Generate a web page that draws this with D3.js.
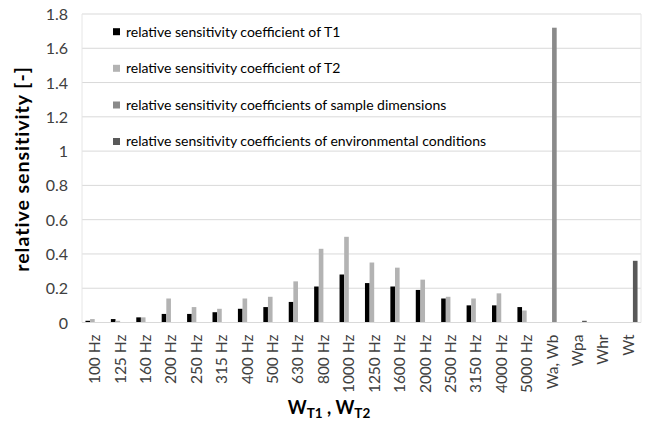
<!DOCTYPE html>
<html><head><meta charset="utf-8">
<script src="https://cdn.jsdelivr.net/npm/d3@7"></script>
<style>
html,body{margin:0;padding:0;background:#fff;}
svg{display:block;font-family:Lato,"Open Sans",sans-serif;}
</style></head>
<body><svg id="chart" width="645" height="423"></svg>
<script>
const categories = ["100 Hz","125 Hz","160 Hz","200 Hz","250 Hz","315 Hz","400 Hz","500 Hz","630 Hz","800 Hz","1000 Hz","1250 Hz","1600 Hz","2000 Hz","2500 Hz","3150 Hz","4000 Hz","5000 Hz","Wa, Wb","Wpa","Whr","Wt"];
const seriesNames = ["relative sensitivity coefficient of T1","relative sensitivity coefficient of T2","relative sensitivity coefficients of sample dimensions","relative sensitivity coefficients of environmental conditions"];
const t1Values = [0.01,0.02,0.03,0.05,0.05,0.06,0.08,0.09,0.12,0.21,0.28,0.23,0.21,0.19,0.14,0.10,0.10,0.09,null,null,null,null];
const t2Values = [0.02,0.01,0.03,0.14,0.09,0.08,0.14,0.15,0.24,0.43,0.50,0.35,0.32,0.25,0.15,0.14,0.17,0.07,null,null,null,null];
const sampleValues = [null,null,null,null,null,null,null,null,null,null,null,null,null,null,null,null,null,null,1.72,null,null,null];
const envValues = [null,null,null,null,null,null,null,null,null,null,null,null,null,null,null,null,null,null,null,0.01,0,0.36];
const yTicks = [0,0.2,0.4,0.6,0.8,1,1.2,1.4,1.6,1.8];
const colors = ["#000000","#b3b3b3","#8a8a8a","#595959"];

const svg = d3.select("#chart");
const pLeft = 82, pRight = 641, pTop = 14, pBottom = 322.5;

const x0 = d3.scaleBand().domain(categories).range([pLeft, pRight]).padding(0);
const bw = x0.bandwidth();
const x1 = d3.scaleBand().domain(d3.range(4)).range([bw*0.75/5.5, bw*4.75/5.5]).padding(0);
const y = d3.scaleLinear().domain([0,1.8]).range([pBottom, pTop]);

// gridlines
svg.append("g").selectAll("line").data(yTicks).join("line")
  .attr("x1", pLeft).attr("x2", pRight)
  .attr("y1", d=>y(d)).attr("y2", d=>y(d))
  .attr("stroke", "#d9d9d9").attr("stroke-width", 1);
svg.append("line").attr("x1",pLeft).attr("x2",pLeft).attr("y1",pTop).attr("y2",pBottom).attr("stroke","#e6e6e6");
svg.append("line").attr("x1",pRight).attr("x2",pRight).attr("y1",pTop).attr("y2",pBottom).attr("stroke","#e6e6e6");

// y axis labels
const yAxis = d3.axisLeft(y).tickValues(yTicks).tickSize(0).tickPadding(0).tickFormat(d=>d3.format("~g")(d));
const yg = svg.append("g").attr("transform", `translate(68,0)`).call(yAxis);
yg.select(".domain").remove();
yg.selectAll("text").attr("font-family","Lato, sans-serif").attr("font-size",16).attr("fill","#404040").attr("dy","0.35em");

// bars
const allSeries = [t1Values, t2Values, sampleValues, envValues];
allSeries.forEach((vals, si) => {
  svg.append("g").selectAll("rect")
    .data(vals.map((v,i)=>({v, c:categories[i]})).filter(d=>d.v!==null && d.v>0))
    .join("rect")
    .attr("x", d=>x0(d.c)+x1(si))
    .attr("width", x1.bandwidth())
    .attr("y", d=>y(d.v))
    .attr("height", d=>y(0)-y(d.v))
    .attr("fill", colors[si]);
});

svg.append("line").attr("x1",pLeft).attr("x2",pRight).attr("y1",y(0)).attr("y2",y(0)).attr("stroke","#d9d9d9");

// x axis labels
const xAxis = d3.axisBottom(x0).tickSize(0).tickPadding(0);
const xg = svg.append("g").attr("transform", `translate(0,${y(0)})`).call(xAxis);
xg.select(".domain").remove();
xg.selectAll("text")
  .attr("font-family","Lato, sans-serif").attr("font-size",15.5).attr("fill","#404040")
  .attr("text-anchor","end").attr("dy",null).attr("y",0)
  .attr("transform","translate(5.5,12) rotate(-90)");

// y title
svg.append("text").attr("transform","translate(29,169) rotate(-90)")
  .attr("text-anchor","middle").attr("font-weight","bold").attr("font-size",19.5)
  .attr("letter-spacing",1).attr("fill","#000")
  .text("relative sensitivity [-]");

// x title
const xt = svg.append("text").attr("x", 329).attr("y", 414).attr("text-anchor","middle")
  .attr("font-weight","bold").attr("font-size",18).attr("fill","#000");
xt.append("tspan").text("W");
xt.append("tspan").attr("font-size",13.5).attr("dy",4).text("T1");
xt.append("tspan").attr("dy",-4).text(" , W");
xt.append("tspan").attr("font-size",13.5).attr("dy",4).text("T2");

// legend
const legendY = [31.7, 68.3, 105, 141.5];
const lg = svg.append("g").selectAll("g").data(seriesNames).join("g")
  .attr("transform",(d,i)=>`translate(113,${legendY[i]})`);
lg.append("rect").attr("x",0).attr("y",-3.5).attr("width",7).attr("height",7).attr("fill",(d,i)=>colors[i]);
lg.append("text").attr("x",13).attr("y",0).attr("dy","0.35em").attr("font-size",14).attr("fill","#000")
  .text(d=>d);
</script></body></html>
